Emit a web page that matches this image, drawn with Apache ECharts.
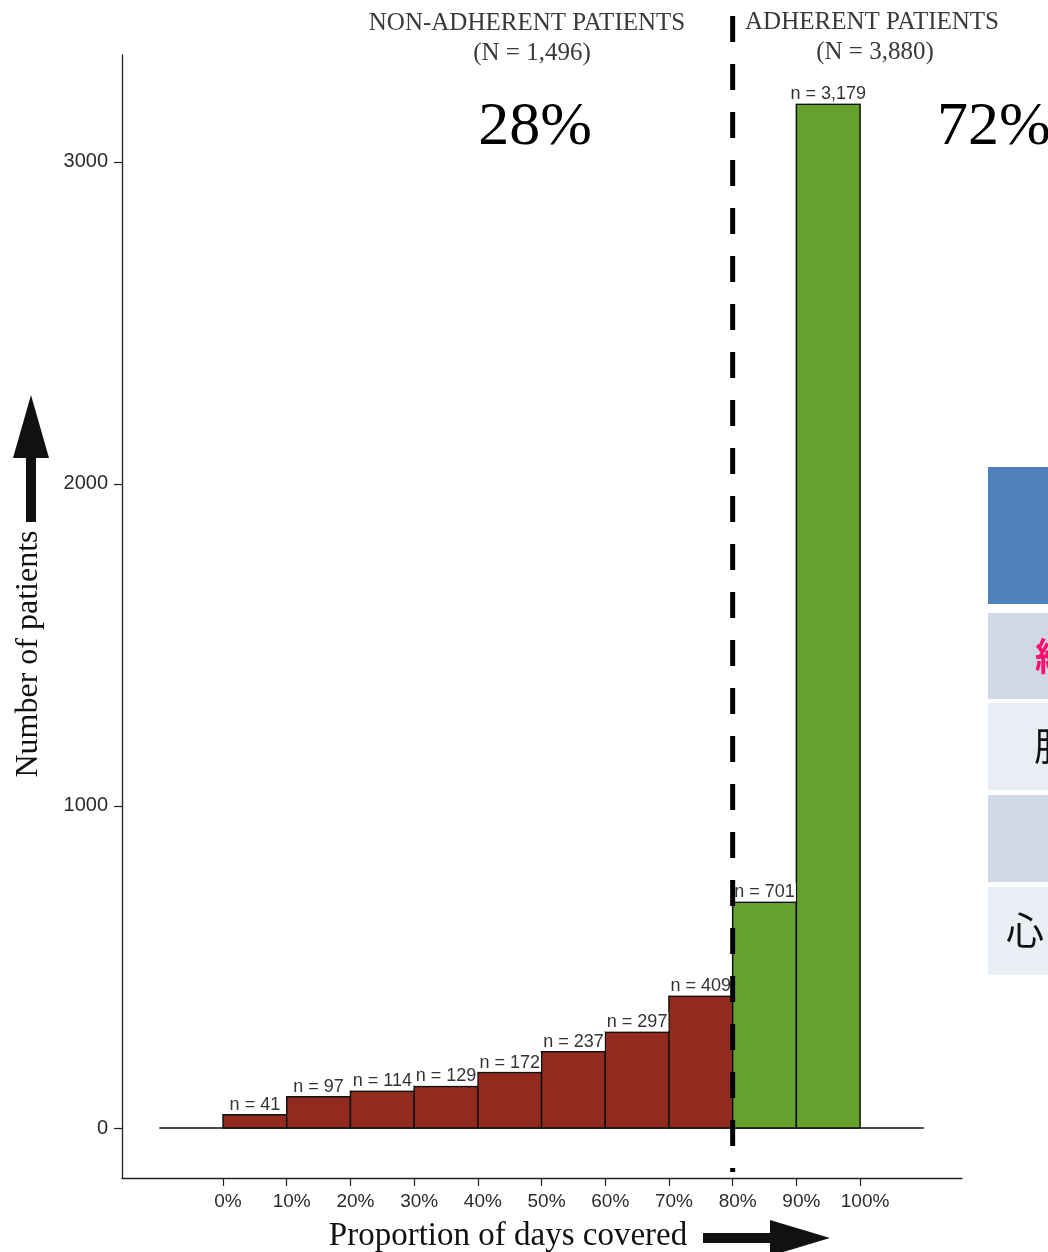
<!DOCTYPE html>
<html>
<head>
<meta charset="utf-8">
<script src="https://cdn.jsdelivr.net/npm/echarts@6/dist/echarts.min.js"></script>
<style>
  html, body { margin: 0; padding: 0; background: #fff; }
  #chart { width: 1048px; height: 1252px; }
</style>
</head>
<body>
<div id="chart"></div>
<script>
// Proportion of days covered, in 10% bins (lower edge of each bin)
const binStarts = [0, 10, 20, 30, 40, 50, 60, 70, 80, 90];
const binWidth = 10;
// Number of patients in each bin
const patientCounts = [41, 97, 114, 129, 172, 237, 297, 409, 701, 3179];
// Adherence cut-off (PDC >= 80%)
const adherenceCutoff = 80;
// Axis ticks
const yTickValues = [0, 1000, 2000, 3000];
const xTickValues = [0, 10, 20, 30, 40, 50, 60, 70, 80, 90, 100];
const xTickLabels = ['0%', '10%', '20%', '30%', '40%', '50%', '60%', '70%', '80%', '90%', '100%'];
// Group summaries
const groupTitles = ['NON-ADHERENT PATIENTS', 'ADHERENT PATIENTS'];
const groupSizes = ['(N = 1,496)', '(N = 3,880)'];
const groupShares = ['28%', '72%'];

const RED = '#922b1e';
const GREEN = '#65a22d';
const SANS = 'Liberation Sans, Arial, sans-serif';
const SERIF = 'Liberation Serif, Times New Roman, serif';

const histData = binStarts.map((s, i) => [s, s + binWidth, patientCounts[i]]);
const fmt = n => 'n = ' + n.toLocaleString('en-US');

const chart = echarts.init(document.getElementById('chart'), null, { renderer: 'canvas' });

const option = {
  backgroundColor: '#fff',
  animation: false,
  grid: { left: 122, right: 86, top: 55, bottom: 74, containLabel: false },
  xAxis: {
    type: 'value',
    min: -15.86,
    max: 116,
    splitLine: { show: false },
    axisLine: { show: true, onZero: false, lineStyle: { color: '#222', width: 1.3 } },
    axisTick: { show: true, customValues: xTickValues, length: 8, lineStyle: { color: '#222', width: 1.2 } },
    axisLabel: {
      customValues: xTickValues,
      formatter: v => xTickLabels[xTickValues.indexOf(Math.round(v))] || '',
      margin: 14,
      padding: [0, 0, 0, 10],
      color: '#2b2b2b',
      fontFamily: SANS,
      fontSize: 19
    }
  },
  yAxis: {
    type: 'value',
    min: -155.3,
    max: 3332,
    splitLine: { show: false },
    axisLine: { show: true, onZero: false, lineStyle: { color: '#222', width: 1.3 } },
    axisTick: { show: true, customValues: yTickValues, length: 8, lineStyle: { color: '#222', width: 1.2 } },
    axisLabel: {
      customValues: yTickValues,
      formatter: v => String(Math.round(v)),
      margin: 14,
      color: '#2b2b2b',
      fontFamily: SANS,
      fontSize: 20
    }
  },
  series: [
    {
      // zero baseline spanning beyond the bins
      type: 'line',
      z: 1,
      symbol: 'none',
      data: [[-10, 0], [110, 0]],
      lineStyle: { color: '#111', width: 1.3 },
      silent: true
    },
    {
      type: 'custom',
      z: 2,
      data: histData,
      encode: { x: [0, 1], y: 2 },
      renderItem: (params, api) => {
        const x0 = api.value(0), x1 = api.value(1), n = api.value(2);
        const tl = api.coord([x0, n]);
        const br = api.coord([x1, 0]);
        const fill = x0 >= adherenceCutoff ? GREEN : RED;
        return {
          type: 'group',
          children: [
            {
              type: 'rect',
              z2: 1,
              shape: { x: tl[0], y: tl[1], width: br[0] - tl[0], height: br[1] - tl[1] },
              style: { fill: fill, stroke: '#111', lineWidth: 1.5 }
            },
            {
              type: 'text',
              z2: 10,
              x: (tl[0] + br[0]) / 2,
              y: tl[1] - 1,
              style: {
                text: fmt(n),
                align: 'center',
                verticalAlign: 'bottom',
                font: '18px ' + SANS,
                fill: '#333',
                backgroundColor: '#fff',
                padding: [1, 1, 0, 1]
              }
            }
          ]
        };
      }
    },
    {
      // adherence cut-off marker
      type: 'custom',
      z: 10,
      clip: false,
      data: [[adherenceCutoff, 3453, -137]],
      renderItem: (params, api) => {
        const top = api.coord([api.value(0), api.value(1)]);
        const bot = api.coord([api.value(0), api.value(2)]);
        return {
          type: 'line',
          z2: 20,
          shape: { x1: top[0], y1: top[1], x2: bot[0], y2: bot[1] },
          style: { stroke: '#000', lineWidth: 5, lineDash: [26, 22] }
        };
      }
    }
  ],
  graphic: [
    // group headers
    { type: 'text', x: 527, y: 23, style: { text: groupTitles[0], font: '25px ' + SERIF, fill: '#3a3a3a', align: 'center', verticalAlign: 'middle' } },
    { type: 'text', x: 532, y: 53, style: { text: groupSizes[0], font: '25px ' + SERIF, fill: '#3a3a3a', align: 'center', verticalAlign: 'middle' } },
    { type: 'text', x: 872, y: 22, style: { text: groupTitles[1], font: '25px ' + SERIF, fill: '#3a3a3a', align: 'center', verticalAlign: 'middle' } },
    { type: 'text', x: 875, y: 52, style: { text: groupSizes[1], font: '25px ' + SERIF, fill: '#3a3a3a', align: 'center', verticalAlign: 'middle' } },
    { type: 'text', x: 535, y: 128, style: { text: groupShares[0], font: '62px ' + SERIF, fill: '#000', align: 'center', verticalAlign: 'middle' } },
    { type: 'text', x: 937, y: 128, style: { text: groupShares[1], font: '62px ' + SERIF, fill: '#000', align: 'left', verticalAlign: 'middle' } },
    // axis titles
    { type: 'text', x: 508, y: 1236, style: { text: 'Proportion of days covered', font: '33px ' + SERIF, fill: '#111', align: 'center', verticalAlign: 'middle' } },
    { type: 'text', x: 29, y: 654, rotation: Math.PI / 2, style: { text: 'Number of patients', font: '32px ' + SERIF, fill: '#111', align: 'center', verticalAlign: 'middle' } },
    // axis arrows
    { type: 'polygon', shape: { points: [[26, 522], [36, 522], [36, 458], [49, 458], [31, 395], [13, 458], [26, 458]] }, style: { fill: '#111' } },
    { type: 'polygon', shape: { points: [[703, 1233], [770, 1233], [770, 1220], [830, 1238], [770, 1256], [770, 1243], [703, 1243]] }, style: { fill: '#111' } },
    // side table
    { type: 'rect', shape: { x: 988, y: 467, width: 70, height: 137 }, style: { fill: '#4f81bd' } },
    { type: 'rect', shape: { x: 988, y: 613, width: 70, height: 86 }, style: { fill: '#d0d8e8' } },
    { type: 'rect', shape: { x: 988, y: 703, width: 70, height: 87 }, style: { fill: '#e9edf4' } },
    { type: 'rect', shape: { x: 988, y: 795, width: 70, height: 87 }, style: { fill: '#d0d8e8' } },
    { type: 'rect', shape: { x: 988, y: 887, width: 70, height: 88 }, style: { fill: '#e9edf4' } },
    { type: 'text', x: 1035, y: 656, style: { text: '継', font: 'bold 38px Noto Sans CJK JP', fill: '#ff1070', align: 'left', verticalAlign: 'middle' } },
    { type: 'text', x: 1034, y: 746, style: { text: '服', font: '38px Noto Sans CJK JP', fill: '#111', align: 'left', verticalAlign: 'middle' } },
    { type: 'text', x: 1006, y: 930, style: { text: '心', font: '38px Noto Sans CJK JP', fill: '#111', align: 'left', verticalAlign: 'middle' } }
  ]
};

chart.setOption(option);
</script>
</body>
</html>
